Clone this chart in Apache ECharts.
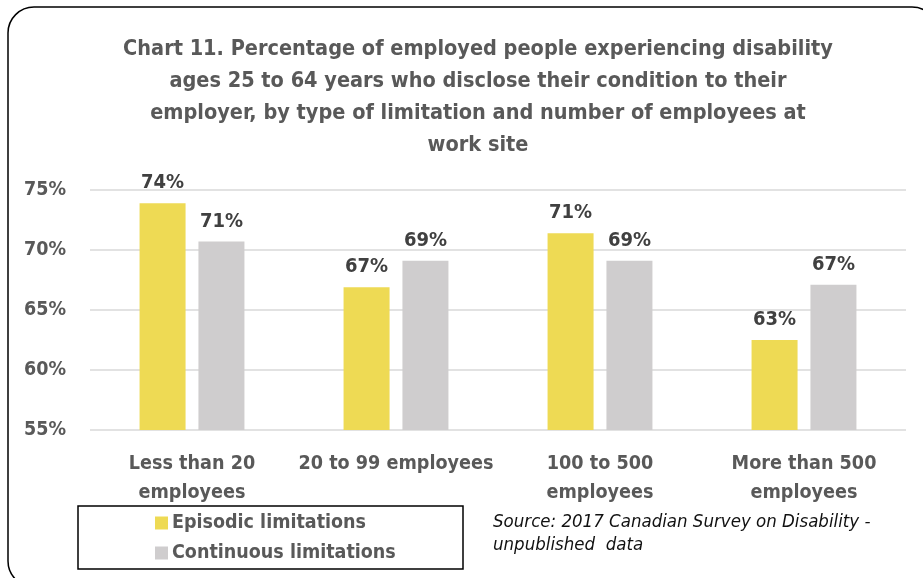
<!DOCTYPE html>
<html>
<head>
<meta charset="utf-8">
<script src="https://cdn.jsdelivr.net/npm/echarts@6/dist/echarts.min.js"></script>
<style>
  html, body { margin: 0; padding: 0; background: #ffffff; }
  #chart { width: 923px; height: 578px; }
</style>
</head>
<body>
<div id="chart"></div>
<script>
// Work-site size groups
const categories = ['Less than 20 employees', '20 to 99 employees', '100 to 500 employees', 'More than 500 employees'];
// Share (%) who disclose their condition to their employer
const episodic = [73.9, 66.9, 71.4, 62.5];
const continuous = [70.7, 69.1, 69.1, 67.1];
const seriesNames = ['Episodic limitations', 'Continuous limitations'];
const yTicks = [55, 60, 65, 70, 75];

const FONT = "'Liberation Sans Narrow', 'DejaVu Sans Condensed', sans-serif";
const GREY = '#595959';

const chart = echarts.init(document.getElementById('chart'), null, { renderer: 'canvas' });

const labelOpt = {
  show: true,
  position: 'top',
  distance: 10,
  fontFamily: FONT,
  fontWeight: 'bold',
  fontSize: 20,
  color: '#404040',
  formatter: p => Math.round(p.value) + '%'
};

chart.setOption({
  animation: false,
  backgroundColor: '#ffffff',
  title: {
    text: 'Chart 11. Percentage of employed people experiencing disability\nages 25 to 64 years who disclose their condition to their\nemployer, by type of limitation and number of employees at\nwork site',
    left: 473,
    top: 28,
    textAlign: 'center',
    textStyle: {
      fontFamily: FONT,
      fontWeight: 'bold',
      fontSize: 21.5,
      lineHeight: 32,
      color: GREY
    }
  },
  legend: {
    data: seriesNames,
    orient: 'vertical',
    left: 150,
    top: 508,
    itemWidth: 13,
    itemHeight: 13,
    itemGap: 10,
    icon: 'rect',
    textStyle: {
      fontFamily: FONT,
      fontWeight: 'bold',
      fontSize: 19.5,
      color: GREY,
      padding: [0, 0, 0, -1]
    }
  },
  grid: { left: 90, right: 17, top: 190, bottom: 148 },
  xAxis: {
    type: 'category',
    data: categories,
    axisLine: { show: false },
    axisTick: { show: false },
    axisLabel: {
      interval: 0,
      margin: 19,
      fontFamily: FONT,
      fontWeight: 'bold',
      fontSize: 19.6,
      lineHeight: 29,
      color: GREY,
      formatter: v => v.length > 18 ? v.replace(/ employees$/, '\nemployees') : v
    }
  },
  yAxis: {
    type: 'value',
    min: yTicks[0],
    max: yTicks[yTicks.length - 1],
    interval: 5,
    axisLine: { show: false },
    axisTick: { show: false },
    splitLine: { lineStyle: { color: '#d9d9d9', width: 1.5 } },
    axisLabel: {
      margin: 24,
      fontFamily: FONT,
      fontWeight: 'bold',
      fontSize: 19.5,
      color: GREY,
      formatter: v => v + '%'
    }
  },
  series: [
    {
      name: seriesNames[0],
      type: 'bar',
      data: episodic,
      barWidth: 46,
      barGap: '28%',
      itemStyle: { color: '#eeda54' },
      label: labelOpt
    },
    {
      name: seriesNames[1],
      type: 'bar',
      data: continuous,
      barWidth: 46,
      barGap: '28%',
      itemStyle: { color: '#cfcdce' },
      label: labelOpt
    }
  ],
  graphic: [
    {
      type: 'rect',
      silent: true,
      shape: { x: 8, y: 7, width: 930, height: 580, r: 26 },
      style: { fill: 'none', stroke: '#000000', lineWidth: 1.5 }
    },
    {
      type: 'rect',
      silent: true,
      shape: { x: 78, y: 506, width: 385, height: 63 },
      style: { fill: 'none', stroke: '#000000', lineWidth: 1.5 }
    },
    {
      type: 'text',
      silent: true,
      left: 493,
      top: 511,
      style: {
        text: 'Source: 2017 Canadian Survey on Disability -\nunpublished  data',
        fontFamily: FONT,
        fontStyle: 'italic',
        fontSize: 18.5,
        lineHeight: 23,
        fill: '#111111'
      }
    }
  ]
});
</script>
</body>
</html>
